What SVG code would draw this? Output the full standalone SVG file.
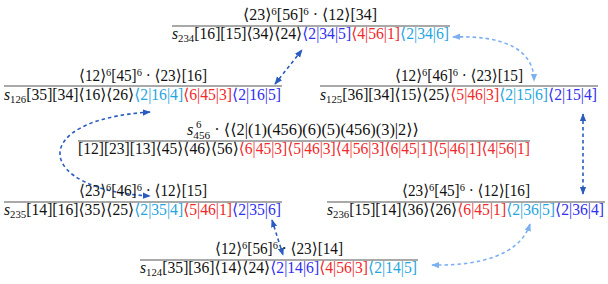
<svg xmlns="http://www.w3.org/2000/svg" width="608" height="284" viewBox="0 0 608 284">
<style>
text{font-family:"Liberation Serif","DejaVu Serif",serif;font-size:16px;fill:#111}
.num{text-anchor:middle}
.sup,.sub{font-size:11px}
.it{font-style:italic}
.db{fill:#2f2ff0}
.rd{fill:#f02a2a}
.cy{fill:#1fa5de}
.bar{stroke:#555;stroke-width:1.1}
.cd{fill:none;stroke:#2a5cbf;stroke-width:1.6;stroke-dasharray:3.5 3;marker-start:url(#ad);marker-end:url(#ad)}
.cl{fill:none;stroke:#7cb0f0;stroke-width:1.6;stroke-dasharray:3.5 3;marker-start:url(#al);marker-end:url(#al)}
</style>
<defs>
<marker id="ad" viewBox="0 0 10 10" refX="9" refY="5" markerWidth="8" markerHeight="8" markerUnits="userSpaceOnUse" orient="auto-start-reverse"><path d="M0,1 L10,5 L0,9 Z" fill="#2a5cbf"/></marker>
<marker id="al" viewBox="0 0 10 10" refX="9" refY="5" markerWidth="8" markerHeight="8" markerUnits="userSpaceOnUse" orient="auto-start-reverse"><path d="M0,1 L10,5 L0,9 Z" fill="#7cb0f0"/></marker>
</defs>

<g id="connectors">
<path class="cd" d="M275,84 L302,50"/>
<path class="cl" d="M453,37 C505,35 534,50 534,81"/>
<path class="cd" d="M150,112 C25,120 35,190 150,196"/>
<path class="cd" d="M583,114 L583,194"/>
<path class="cd" d="M272,220 L283,255"/>
<path class="cl" d="M530,224 C520,255 480,266 432,265"/>
</g>

<g id="n234">
<text class="num" x="310" y="20" textLength="134" lengthAdjust="spacingAndGlyphs">⟨23⟩<tspan class="sup" dy="-5">6</tspan><tspan dy="5">[56]</tspan><tspan class="sup" dy="-5">6</tspan><tspan dy="5"> · ⟨12⟩[34]</tspan></text>
<line class="bar" x1="172" y1="26" x2="450" y2="26"/>
<text x="172" y="39" textLength="277" lengthAdjust="spacingAndGlyphs"><tspan class="it">s</tspan><tspan class="sub" dy="3">234</tspan><tspan dy="-3">[16][15]⟨34⟩⟨24⟩</tspan><tspan class="db">⟨2|34|5]</tspan><tspan class="rd">⟨4|56|1]</tspan><tspan class="cy">⟨2|34|6]</tspan></text>
</g>

<g id="n126">
<text class="num" x="143" y="81" textLength="128" lengthAdjust="spacingAndGlyphs">⟨12⟩<tspan class="sup" dy="-5">6</tspan><tspan dy="5">[45]</tspan><tspan class="sup" dy="-5">6</tspan><tspan dy="5"> · ⟨23⟩[16]</tspan></text>
<line class="bar" x1="4" y1="86" x2="282" y2="86"/>
<text x="4" y="100" textLength="277" lengthAdjust="spacingAndGlyphs"><tspan class="it">s</tspan><tspan class="sub" dy="3">126</tspan><tspan dy="-3">[35][34]⟨16⟩⟨26⟩</tspan><tspan class="cy">⟨2|16|4]</tspan><tspan class="rd">⟨6|45|3]</tspan><tspan class="db">⟨2|16|5]</tspan></text>
</g>

<g id="n125">
<text class="num" x="459" y="81" textLength="128" lengthAdjust="spacingAndGlyphs">⟨12⟩<tspan class="sup" dy="-5">6</tspan><tspan dy="5">[46]</tspan><tspan class="sup" dy="-5">6</tspan><tspan dy="5"> · ⟨23⟩[15]</tspan></text>
<line class="bar" x1="320" y1="86" x2="598" y2="86"/>
<text x="320" y="100" textLength="277" lengthAdjust="spacingAndGlyphs"><tspan class="it">s</tspan><tspan class="sub" dy="3">125</tspan><tspan dy="-3">[36][34]⟨15⟩⟨25⟩</tspan><tspan class="rd">⟨5|46|3]</tspan><tspan class="cy">⟨2|15|6]</tspan><tspan class="db">⟨2|15|4]</tspan></text>
</g>

<g id="nmid">
<text x="187" y="135" textLength="232" lengthAdjust="spacingAndGlyphs"><tspan class="it">s</tspan><tspan class="sub" dy="4">456</tspan><tspan dy="-4"> · ⟨⟨2|(1)(456)(6)(5)(456)(3)|2⟩⟩</tspan></text>
<text class="sup" x="196" y="128">6</text>
<line class="bar" x1="78" y1="141" x2="530" y2="141"/>
<text x="78" y="154" textLength="452" lengthAdjust="spacingAndGlyphs">[12][23][13]⟨45⟩⟨46⟩⟨56⟩<tspan class="rd">⟨6|45|3]⟨5|46|3]⟨4|56|3]⟨6|45|1]⟨5|46|1]⟨4|56|1]</tspan></text>
</g>

<g id="n235">
<text class="num" x="143" y="196" textLength="128" lengthAdjust="spacingAndGlyphs">⟨23⟩<tspan class="sup" dy="-5">6</tspan><tspan dy="5">[46]</tspan><tspan class="sup" dy="-5">6</tspan><tspan dy="5"> · ⟨12⟩[15]</tspan></text>
<line class="bar" x1="4" y1="202" x2="282" y2="202"/>
<text x="4" y="215" textLength="277" lengthAdjust="spacingAndGlyphs"><tspan class="it">s</tspan><tspan class="sub" dy="3">235</tspan><tspan dy="-3">[14][16]⟨35⟩⟨25⟩</tspan><tspan class="cy">⟨2|35|4]</tspan><tspan class="rd">⟨5|46|1]</tspan><tspan class="db">⟨2|35|6]</tspan></text>
</g>

<g id="n236">
<text class="num" x="466" y="196" textLength="128" lengthAdjust="spacingAndGlyphs">⟨23⟩<tspan class="sup" dy="-5">6</tspan><tspan dy="5">[45]</tspan><tspan class="sup" dy="-5">6</tspan><tspan dy="5"> · ⟨12⟩[16]</tspan></text>
<line class="bar" x1="327" y1="202" x2="605" y2="202"/>
<text x="327" y="215" textLength="277" lengthAdjust="spacingAndGlyphs"><tspan class="it">s</tspan><tspan class="sub" dy="3">236</tspan><tspan dy="-3">[15][14]⟨36⟩⟨26⟩</tspan><tspan class="rd">⟨6|45|1]</tspan><tspan class="cy">⟨2|36|5]</tspan><tspan class="db">⟨2|36|4]</tspan></text>
</g>

<g id="n124">
<text class="num" x="279" y="254" textLength="128" lengthAdjust="spacingAndGlyphs">⟨12⟩<tspan class="sup" dy="-5">6</tspan><tspan dy="5">[56]</tspan><tspan class="sup" dy="-5">6</tspan><tspan dy="5"> · ⟨23⟩[14]</tspan></text>
<line class="bar" x1="140" y1="260" x2="418" y2="260"/>
<text x="140" y="273" textLength="277" lengthAdjust="spacingAndGlyphs"><tspan class="it">s</tspan><tspan class="sub" dy="3">124</tspan><tspan dy="-3">[35][36]⟨14⟩⟨24⟩</tspan><tspan class="db">⟨2|14|6]</tspan><tspan class="rd">⟨4|56|3]</tspan><tspan class="cy">⟨2|14|5]</tspan></text>
</g>
</svg>
